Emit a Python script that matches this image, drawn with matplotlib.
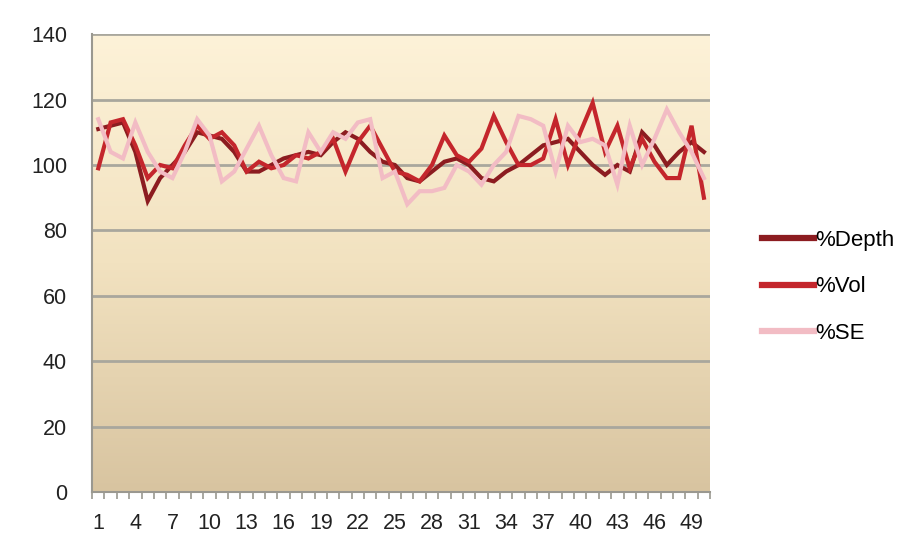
import numpy as np
import matplotlib
matplotlib.use("Agg")
import matplotlib.pyplot as plt
from matplotlib.colors import LinearSegmentedColormap

plt.rcParams['font.family'] = ['Liberation Sans', 'DejaVu Sans']

# data
samples = list(range(1, 51))
depth = [111, 112, 113, 104, 89, 96, 100, 104, 110, 109, 108, 104, 98, 98, 100,
         102, 103, 104, 103, 107, 110, 108, 104, 101, 100, 96, 95, 98, 101, 102,
         100, 96, 95, 98, 100, 103, 106, 107, 108, 104, 100, 97, 100, 98, 110,
         106, 100, 104, 107, 104]
vol = [99, 113, 114, 106, 96, 100, 99, 106, 112, 108, 110, 106, 98, 101, 99,
       100, 103, 102, 104, 108, 98, 107, 112, 105, 98, 97, 95, 100, 109, 103,
       101, 105, 115, 107, 100, 100, 102, 114, 100, 110, 119, 104, 112, 99, 108,
       101, 96, 96, 112, 90]
se = [114, 104, 102, 113, 104, 98, 96, 104, 114, 109, 95, 98, 105, 112, 103,
      96, 95, 110, 104, 110, 108, 113, 114, 96, 98, 88, 92, 92, 93, 100,
      98, 94, 100, 104, 115, 114, 112, 98, 112, 107, 108, 106, 94, 112, 100,
      108, 117, 110, 104, 96]
series_names = ['%Depth', '%Vol', '%SE']
series_colors = ['#8c1c20', '#c4262c', '#f2bcc4']
y_ticks = [0, 20, 40, 60, 80, 100, 120, 140]

fig = plt.figure(figsize=(9.21, 5.42), dpi=100)
ax = fig.add_axes([0.100, 0.092, 0.671, 0.845])

# background gradient (cream at top, tan at bottom)
grad = LinearSegmentedColormap.from_list('bg', ['#d8c4a0', '#f2e2c0', '#fdf2d8'])
ax.imshow(np.linspace(0, 1, 256).reshape(-1, 1), cmap=grad, origin='lower',
          extent=[0.5, 50.5, 0, 140], aspect='auto', zorder=0)

for yv in y_ticks[1:]:
    ax.axhline(yv, color='#a9a79d', lw=2.0, zorder=1)

for vals, name, col in zip([depth, vol, se], series_names, series_colors):
    ax.plot(samples, vals, color=col, lw=3.0, label=name, zorder=3,
            solid_joinstyle='miter')

ax.set_xlim(0.5, 50.5)
ax.set_ylim(0, 140)
ax.set_yticks(y_ticks)
ax.set_xticks(samples[::3])
ax.set_xticks(np.arange(0.5, 51, 1), minor=True)
ax.tick_params(axis='x', which='major', length=0, labelsize=15.5, pad=15,
               labelcolor='#222222')
ax.tick_params(axis='x', which='minor', length=5, color='#9a9890', width=1.2)
ax.tick_params(axis='y', length=0, labelsize=15.5, pad=18, labelcolor='#222222')

for s in ['top', 'right']:
    ax.spines[s].set_visible(False)
ax.spines['left'].set_color('#9a9890')
ax.spines['left'].set_linewidth(1.5)
ax.spines['bottom'].set_color('#9a9890')
ax.spines['bottom'].set_linewidth(1.5)

leg = ax.legend(loc='center left', bbox_to_anchor=(1.07, 0.448), frameon=False,
                fontsize=16, handlelength=2.35, handletextpad=0.05,
                labelspacing=1.15, borderaxespad=0)
for line in leg.get_lines():
    line.set_linewidth(4.5)

fig.savefig('out.png', dpi=100)
